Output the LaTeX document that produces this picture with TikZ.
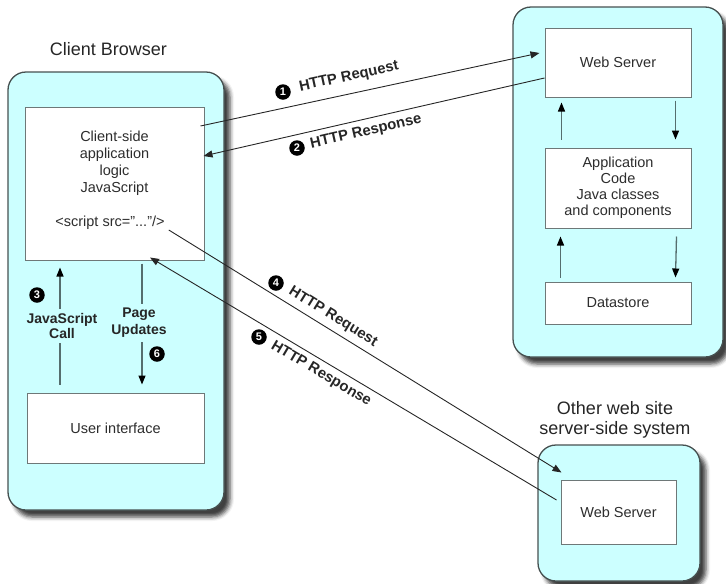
\documentclass[tikz,border=0pt]{standalone}
\usepackage{fontspec}
\setmainfont{Liberation Sans}
\usetikzlibrary{arrows.meta,shadows.blur,calc}
\definecolor{panelfill}{RGB}{204,255,255}
\definecolor{panelline}{RGB}{70,80,80}
\definecolor{boxline}{RGB}{110,120,120}
\definecolor{txt}{RGB}{45,45,45}
\definecolor{flowline}{RGB}{85,110,110}
\begin{document}
\begin{tikzpicture}[x=1pt,y=-1pt,
  panel/.style={draw=panelline, line width=1.3pt, fill=panelfill, rounded corners=18pt, inner sep=0pt,
    blur shadow={shadow xshift=6pt, shadow yshift=-7pt, shadow blur radius=4pt, shadow opacity=75}},
  box/.style={draw=boxline, line width=1pt, fill=white, inner sep=0pt, font=\fontsize{14.5}{17}\selectfont, text=txt, align=center},
  plain/.style={font=\fontsize{14.5}{17}\selectfont, text=txt, align=center, inner sep=0pt},
  title/.style={font=\fontsize{18}{20}\selectfont, text=black!85, align=center, inner sep=0pt},
  lbl/.style={font=\bfseries\fontsize{14.8}{16}\selectfont, text=black!85, inner sep=0pt},
  num/.style={circle, fill=black, text=white, font=\bfseries\fontsize{11}{11}\selectfont, inner sep=0pt, minimum size=15.5pt},
  wire/.style={draw=black!85, line width=0.9pt, -{Triangle[length=9pt,width=7pt]}},
  flow/.style={draw=flowline, line width=1.3pt, -{Triangle[length=9pt,width=7pt,color=black]}},
  flowtxt/.style={font=\bfseries\fontsize{14}{15}\selectfont, text=black!85, align=center, fill=panelfill, inner xsep=1pt, inner ysep=4pt}
]
\useasboundingbox (0,0) rectangle (726,584);

% panels
\node[panel, minimum width=216pt, minimum height=438pt] (cb) at (116,291) {};
\node[panel, minimum width=210pt, minimum height=350pt] (srv) at (618,182) {};
\node[panel, minimum width=162pt, minimum height=136pt] (oth) at (619,513) {};

% titles
\node[title] (cbtitle) at (108.5,49) {Client Browser};
\node[title] (othtitle) at (615,419.5) {Other web site\\server-side system};

% client boxes
\node[box, minimum width=179pt, minimum height=153pt] (cs) at (114.5,183.5) {};
\node[plain] (cstext) at (114.5,163) {Client-side\\application\\logic\\JavaScript};
\node[plain] (script) at (110,223) {<script src=\symbol{34}...\symbol{34}/>};
\node[box, minimum width=177pt, minimum height=70pt] (ui) at (115.5,428) {User interface};

% server boxes
\node[box, minimum width=146pt, minimum height=69pt] (ws) at (618,62.5) {Web Server};
\node[box, minimum width=146pt, minimum height=80pt, font=\fontsize{14.5}{16}\selectfont] (app) at (618,188) {Application\\Code\\Java classes\\and components};
\node[box, minimum width=146pt, minimum height=42pt] (ds) at (618,303) {Datastore};
\node[box, minimum width=115pt, minimum height=64pt] (ws2) at (618.5,512) {Web Server};

% server internal flows
\draw[flow] ($(app.north west)+(17,-8)$) -- ($(ws.south west)+(17,5)$);
\draw[flow] ($(ws.south east)+(-16,3)$) -- ($(app.north east)+(-16,-8)$);
\draw[flow] ($(ds.north west)+(16,-4)$) -- ($(app.south west)+(16,8)$);
\draw[flow] ($(app.south east)+(-15,8)$) -- ($(ds.north east)+(-16,-4)$);

% client internal flows
\draw[flow] ($(ui.north)+(-55.5,-8)$) -- ($(cs.south)+(-54.5,7)$);
\node[flowtxt] (jstxt) at (62,326) {JavaScript\\Call};
\node[num] (n3) at (37,295) {3};
\draw[flow] ($(cs.south)+(27.5,3)$) -- ($(ui.north)+(26.5,-8)$);
\node[flowtxt, font=\bfseries\fontsize{14}{17}\selectfont] (putxt) at (139,323) {Page\\Updates};
\node[num] (n6) at (157,354) {6};

% HTTP 1 and 2
\draw[wire] ($(cs.east)+(-4,-57.5)$) -- ($(ws.west)+(-5,-9.5)$);
\node[num] (n1) at (283,92) {1};
\node[lbl, rotate=12.1] (l1) at (349,77) {HTTP Request};
\draw[wire] ($(ws.west)+(0,15.5)$) -- ($(cs.east)+(-1,-27.5)$);
\node[num] (n2) at (297,148) {2};
\node[lbl, rotate=12.8] (l2) at (366,132) {HTTP Response};

% HTTP 4 and 5
\draw[wire] ($(script.east)+(4,7)$) -- ($(ws2.north west)+(1,-7)$);
\node[num] (n4) at (276,283) {4};
\node[lbl, rotate=-31.7] (l4) at (333,317) {HTTP Request};
\draw[wire] ($(ws2.west)+(-4,-12)$) -- ($(cs.south)+(35.5,-3)$);
\node[num] (n5) at (259,337) {5};
\node[lbl, rotate=-30.8] (l5) at (321,374) {HTTP Response};
\end{tikzpicture}
\end{document}
